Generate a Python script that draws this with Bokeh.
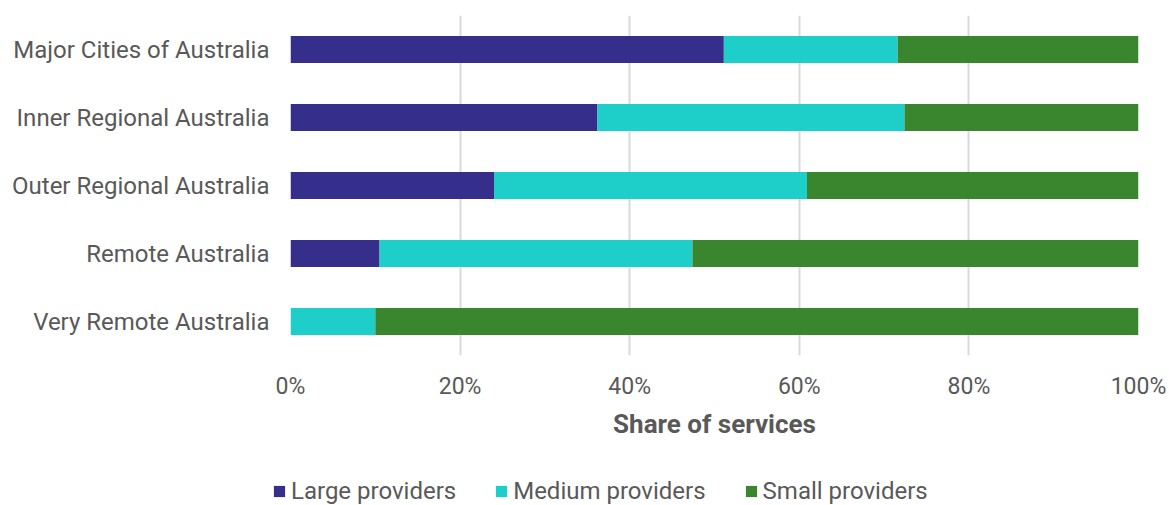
from bokeh.plotting import figure
from bokeh.models import Legend, LegendItem, FactorRange, Range1d, FixedTicker, PrintfTickFormatter
from bokeh.embed import file_html
from bokeh.resources import INLINE

categories = ["Major Cities of Australia", "Inner Regional Australia", "Outer Regional Australia",
              "Remote Australia", "Very Remote Australia"]
large = [51.1, 36.2, 24.0, 10.5, 0.0]
medium = [20.5, 36.2, 36.9, 36.9, 10.0]
small = [28.4, 27.6, 39.1, 52.6, 90.0]
series = ["Large providers", "Medium providers", "Small providers"]
colors = ["#352E8B", "#1DCFC8", "#3A862F"]
ticks = [0, 20, 40, 60, 80, 100]

FONT = "Roboto"
GREY = "#595959"
W = 1169

src = dict(cat=categories, large=large, medium=medium, small=small)
keys = ["large", "medium", "small"]

p = figure(width=W, height=460, output_backend="svg", toolbar_location=None,
           y_range=FactorRange(factors=list(reversed(categories)), range_padding=0),
           x_range=Range1d(0, 100))
p.min_border_left = 290
p.min_border_right = W - 1138
p.min_border_top = 15
p.min_border_bottom = 105
p.outline_line_color = None

p.hbar_stack(keys, y="cat", height=0.4, color=colors, source=src, line_width=0)

p.xaxis.ticker = FixedTicker(ticks=ticks)
p.xaxis.formatter = PrintfTickFormatter(format="%d%%")
p.xaxis.axis_label = "Share of services"
p.xaxis.axis_label_text_font = FONT
p.xaxis.axis_label_text_font_style = "bold"
p.xaxis.axis_label_text_font_size = "26px"
p.xaxis.axis_label_text_color = GREY
p.xaxis.axis_label_standoff = 6
for ax in (p.xaxis[0], p.yaxis[0]):
    ax.axis_line_color = None
    ax.major_tick_line_color = None
    ax.minor_tick_line_color = None
    ax.major_label_text_font = FONT
    ax.major_label_text_color = GREY
p.xaxis.major_label_text_font_size = "23px"
p.yaxis.major_label_text_font_size = "24px"
p.xaxis.major_label_standoff = 11
p.yaxis.major_label_standoff = 15

p.ygrid.grid_line_color = None
p.xgrid.ticker = FixedTicker(ticks=ticks)
p.xgrid.grid_line_color = "#D9D9D9"
p.xgrid.grid_line_width = 2

# legend strip below the chart (own root, frame spans the full width)
leg = figure(width=W, height=45, output_backend="svg", toolbar_location=None,
             x_axis_type=None, y_axis_type=None, min_border=0,
             y_range=FactorRange(factors=categories), x_range=Range1d(0, 100))
leg.outline_line_color = None
leg.grid.grid_line_color = None
leg_renderers = leg.hbar_stack(keys, y="cat", height=0.4, color=colors, source=src,
                               line_width=0, visible=False)
items = [LegendItem(label=s, renderers=[r]) for s, r in zip(series, leg_renderers)]
legend = Legend(items=items, orientation="horizontal", location=(272, 0),
                label_text_font=FONT, label_text_font_size="24px", label_text_color=GREY,
                glyph_width=14, glyph_height=14, label_standoff=5, spacing=38,
                border_line_color=None, background_fill_alpha=0, padding=0, margin=0)
leg.add_layout(legend, "center")

open("out.html", "w").write(file_html([p, leg], INLINE))
